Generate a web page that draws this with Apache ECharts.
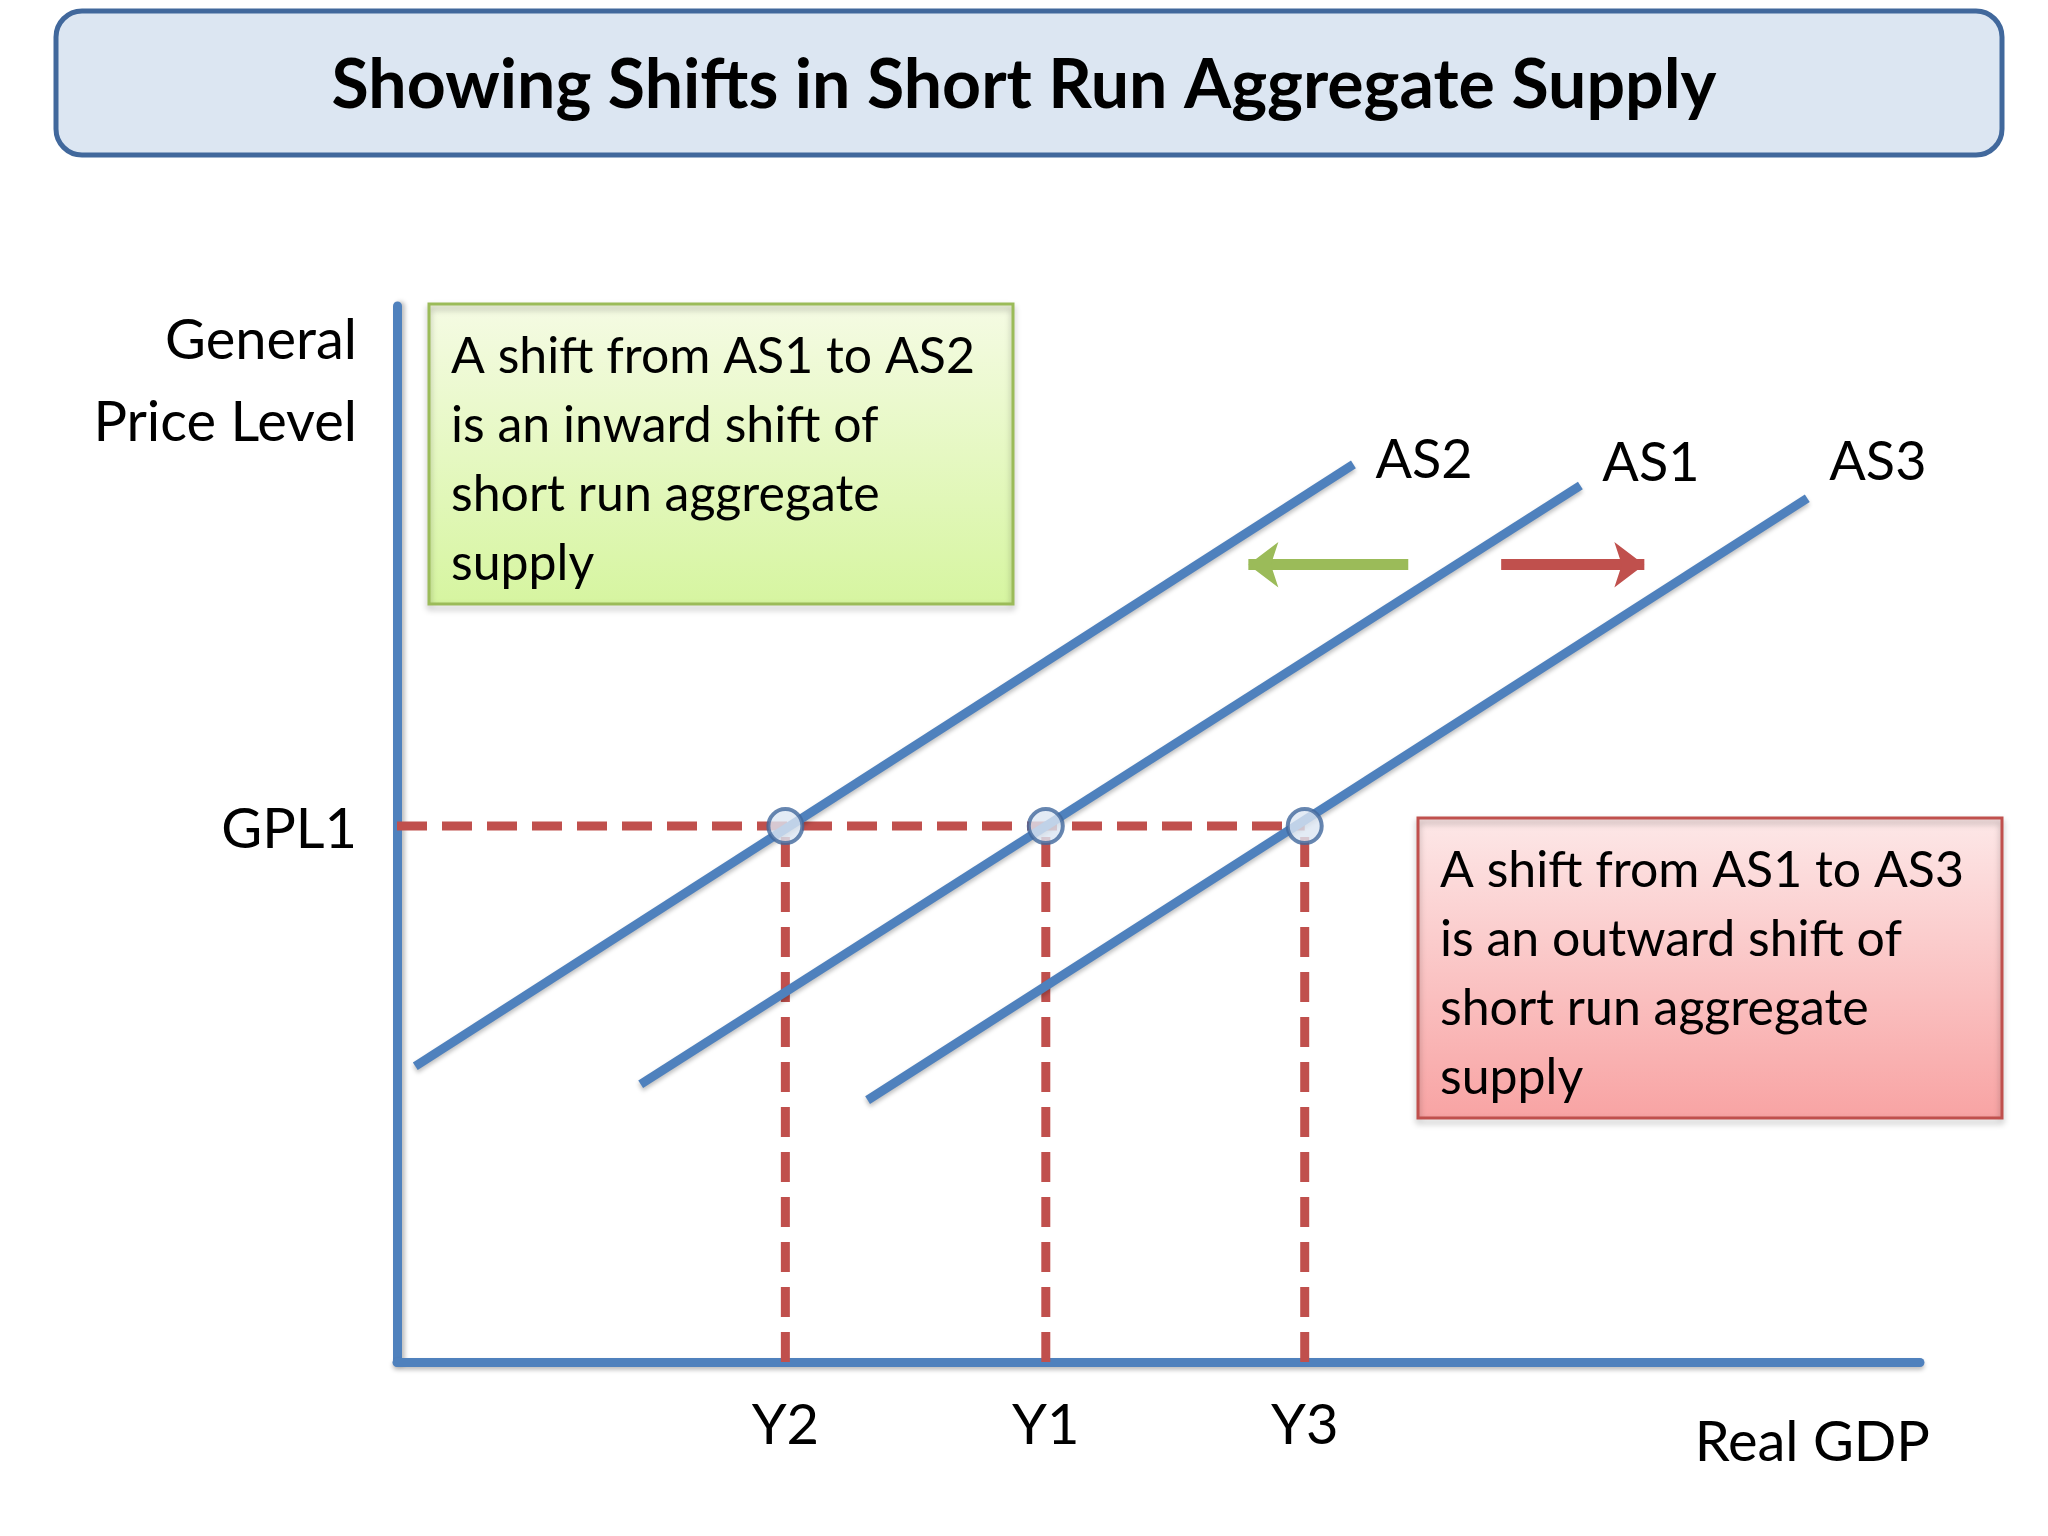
<!DOCTYPE html>
<html>
<head>
<meta charset="utf-8">
<script src="https://cdn.jsdelivr.net/npm/echarts@6/dist/echarts.min.js"></script>
<style>html,body{margin:0;background:#fff}#main{width:2048px;height:1536px}</style>
</head>
<body>
<div id="main"></div>
<script>
// curve endpoints in axis units (0..100 both ways)
var curveNames = ['AS2', 'AS1', 'AS3'];
var as2 = [[1.2, 28], [62.8, 85]];
var as1 = [[16.0, 26.3], [77.7, 83]];
var as3 = [[30.9, 24.8], [92.6, 81.8]];
var gpl = 50.75;
var eqX = [25.5, 42.6, 59.6];
var eqNames = ['Y2', 'Y1', 'Y3'];
var arrowY = 75.5;
var greenArrow = [66.4, 55.9];
var redArrow = [72.5, 81.9];

var FONT = 'Lato, "Open Sans", sans-serif';
var BLUE = '#4f81bd';
var RED = '#c0504d';
var chart = echarts.init(document.getElementById('main'));

function curve(name, pts, dy) {
  return {
    name: name, type: 'line', data: pts, symbol: 'none',
    lineStyle: {color: BLUE, width: 9, shadowColor: 'rgba(0,0,0,0.25)', shadowBlur: 4, shadowOffsetY: 3},
    endLabel: {show: true, formatter: name, color: '#000', fontSize: 54, fontFamily: FONT, offset: [14, dy]},
    z: 3
  };
}

var dashStyle = {color: RED, width: 9, type: [30, 15]};
var dashSeries = [{
  type: 'line', data: [[0, gpl], [eqX[2], gpl]], symbol: 'none', lineStyle: dashStyle, z: 2
}];
eqX.forEach(function (x) {
  dashSeries.push({type: 'line', data: [[x, 0], [x, gpl]], symbol: 'none', lineStyle: dashStyle, z: 2});
});

function arrow(pts, color) {
  return {
    type: 'line', data: [], silent: true,
    markLine: {
      symbol: ['none', 'arrow'], symbolSize: [34, 30], silent: true, label: {show: false},
      lineStyle: {color: color, width: 11, type: 'solid'},
      data: [[{coord: [pts[0], arrowY]}, {coord: [pts[1], arrowY]}]]
    }
  };
}

var graphics = [
  {type: 'rect', shape: {x: 56, y: 11, width: 1946, height: 144, r: 26},
    style: {fill: '#dce6f2', stroke: '#41689c', lineWidth: 5}},
  {type: 'text', x: 1024, y: 86, style: {text: 'Showing Shifts in Short Run Aggregate Supply', fontSize: 68, fontWeight: 'bold',
    fontFamily: FONT, fill: '#000', align: 'center', verticalAlign: 'middle'}},
  {type: 'rect', shape: {x: 429, y: 304, width: 584, height: 300},
    style: {fill: new echarts.graphic.LinearGradient(0, 0, 0, 1, [{offset: 0, color: '#f5fbe4'}, {offset: 1, color: '#d6f5a0'}]),
      stroke: '#9bbb59', lineWidth: 3, shadowColor: 'rgba(0,0,0,0.3)', shadowBlur: 6, shadowOffsetY: 4}},
  {type: 'text', x: 451, y: 322, style: {text: 'A shift from AS1 to AS2\nis an inward shift of\nshort run aggregate\nsupply',
    fontSize: 50, lineHeight: 69, fontFamily: FONT, fill: '#000'}},
  {type: 'rect', shape: {x: 1418, y: 818, width: 584, height: 300},
    style: {fill: new echarts.graphic.LinearGradient(0, 0, 0, 1, [{offset: 0, color: '#fde8e8'}, {offset: 1, color: '#f8a3a3'}]),
      stroke: RED, lineWidth: 3, shadowColor: 'rgba(0,0,0,0.3)', shadowBlur: 6, shadowOffsetY: 4}},
  {type: 'text', x: 1440, y: 836, style: {text: 'A shift from AS1 to AS3\nis an outward shift of\nshort run aggregate\nsupply',
    fontSize: 50, lineHeight: 69, fontFamily: FONT, fill: '#000'}},
  {type: 'text', x: 357, y: 300, style: {text: 'General\nPrice Level', fontSize: 56, lineHeight: 82, fontFamily: FONT,
    fill: '#000', align: 'right'}},
  {type: 'text', x: 1930, y: 1443, style: {text: 'Real GDP', fontSize: 56, fontFamily: FONT, fill: '#000', align: 'right', verticalAlign: 'middle'}}
];

chart.setOption({
  animation: false,
  grid: {left: 397, right: 128, top: 306, bottom: 174},
  xAxis: {type: 'value', min: 0, max: 100, axisLine: {lineStyle: {color: BLUE, width: 9, shadowColor: 'rgba(0,0,0,0.25)', shadowBlur: 4, shadowOffsetY: 3}},
    axisTick: {show: false}, axisLabel: {show: false}, splitLine: {show: false}},
  yAxis: {type: 'value', min: 0, max: 100, axisLine: {show: true, lineStyle: {color: BLUE, width: 9, shadowColor: 'rgba(0,0,0,0.25)', shadowBlur: 4, shadowOffsetX: 3}},
    axisTick: {show: false}, axisLabel: {show: false}, splitLine: {show: false}},
  series: [curve(curveNames[0], as2, -4), curve(curveNames[1], as1, -22), curve(curveNames[2], as3, -36)]
    .concat(dashSeries)
    .concat([arrow(greenArrow, '#9bbb59'), arrow(redArrow, RED), {
      type: 'scatter', data: eqX.map(function (x) { return [x, gpl]; }), symbol: 'circle', symbolSize: 34,
      itemStyle: {color: '#dce6f2', borderColor: '#41689c', borderWidth: 4}, z: 5
    }]),
  graphic: graphics
});

// axis value labels placed through the chart's own scale
var extra = [];
var gp = chart.convertToPixel({gridIndex: 0}, [0, gpl]);
extra.push({type: 'text', x: gp[0] - 40, y: gp[1] + 4, style: {text: 'GPL1', fontSize: 56, fontFamily: FONT, fill: '#000', align: 'right', verticalAlign: 'middle'}});
eqX.forEach(function (x, i) {
  var p = chart.convertToPixel({gridIndex: 0}, [x, 0]);
  extra.push({type: 'text', x: p[0], y: p[1] + 64, style: {text: eqNames[i], fontSize: 56, fontFamily: FONT, fill: '#000', align: 'center', verticalAlign: 'middle'}});
});
chart.setOption({graphic: graphics.concat(extra)});
</script>
</body>
</html>
